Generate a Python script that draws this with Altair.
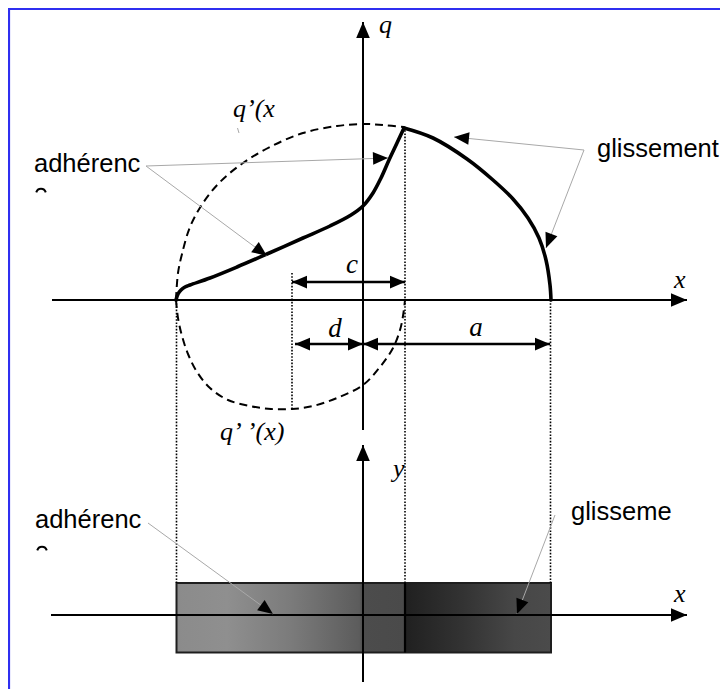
import math
import altair as alt
import pandas as pd

# ---------------- data (diagram units, origin = crossing of q-axis and upper x-axis) ----------------
# total pressure q(x): stick (adhérence) part and slip (glissement) part
adh_x = [-187, -185, -182, -178, -173, -153, -126, -96, -60, -33, -12, 0, 10, 18, 26, 34, 41]
adh_q = [0, 6, 10, 13, 15, 22, 33, 46, 62, 74, 85, 94, 107, 122, 140, 157, 172]
slip_x = [41, 70, 104, 130, 150, 165, 176, 183, 187, 188]
slip_q = [172, 162, 141, 120, 101, 82, 62, 40, 15, 0]
# q'(x) (upper dashed) and q''(x) (lower dashed)
qp_x = [-187, -185, -181, -173, -160, -143, -120, -93, -60, -26, 0, 20, 41]
qp_q = [0, 27, 46, 73, 97, 118, 137, 153, 167, 174, 176, 175, 173]
qpp_x = [-187, -185, -181, -175, -166, -153, -135, -113, -92, -71, -50, -26, 0, 17, 30, 37, 40, 42]
qpp_q = [0, -18, -36, -54, -72, -88, -100, -106, -109, -109, -106, -98, -85, -67, -48, -30, -16, 0]

# axes (start -> arrow tip)
axis_x0 = [-311, 0, -312, 0]
axis_y0 = [0, -130, -315, -382]
axis_x1 = [324, 0, 324, 0]
axis_y1 = [0, 278, -315, -145]

# dimension arrows c, d, a (double headed)
dim_x0 = [-71, -68, 0]
dim_x1 = [42, 0, 187]
dim_y = [18, -44, -44]

# dotted projection lines
dot_x = [-186.5, -71, 42, 187.5]
dot_top = [0, 27, 173, 0]
dot_bot = [-283, -109, -283, -283]

# leader lines (label -> arrow tip)
lead_x0 = [-217, -217, 221, 221, -215, 192, -125.5]
lead_y0 = [134, 134, 150, 150, -223, -215, 172]
lead_x1 = [25, -96, 91, 183, -90, 154, -124]
lead_y1 = [142, 44, 163, 52, -314, -314, 167]
lead_head = [True, True, True, True, True, True, False]

# contact strip (lower view)
strip_left = [-186.5, 42]
strip_right = [42, 188]
strip_top = -283
strip_bottom = -352.5

# labels
sans_text = ["adhérenc", "glissement", "adhérenc", "glisseme"]
sans_x = [-329, 234, -328, 208]
sans_y = [128, 143, -228, -220]
frag_x = [-322, -321]
frag_y = [110, -248]

ital_text = ["q", "q\u2019(x", "q\u2019\u2009\u2019(x)", "x", "x", "y"]
ital_x = [16, -130, -143, 311, 311, 30]
ital_y = [267, 183, -140, 12, -302, -177]
dimlab_text = ["c", "d", "a"]
dimlab_x = [-11, -28, 113]
dimlab_y = [27, -37, -36]

# frame (top and left edges)
frame_x0 = [-355, -354]
frame_y0 = [291, 292]
frame_x1 = [357, -354]
frame_y1 = [291, -389]

# ---------------- scales ----------------
XS = alt.Scale(domain=[-355, 357], nice=False, zero=False)
YS = alt.Scale(domain=[-389, 292], nice=False, zero=False)


def X(f="x"):
    return alt.X(f"{f}:Q", scale=XS, axis=None)


def Y(f="y"):
    return alt.Y(f"{f}:Q", scale=YS, axis=None)


def ang(x0, y0, x1, y1):
    return (math.degrees(math.atan2(x1 - x0, y1 - y0)) + 360.0) % 360.0


HEAD = "M0,0L-0.85,2L0.85,2Z"

# ---------------- tables ----------------
def curve_df(xs, ys, name):
    return pd.DataFrame({"x": xs, "y": ys, "seg": name, "i": range(len(xs))})


dashed_df = pd.concat([curve_df(qp_x, qp_q, "qp"), curve_df(qpp_x, qpp_q, "qpp")])
solid_df = pd.concat([curve_df(adh_x, adh_q, "adh"), curve_df(slip_x, slip_q, "slip")])

axis_df = pd.DataFrame({"x": axis_x0, "y": axis_y0, "x2": axis_x1, "y2": axis_y1})
axis_heads = pd.DataFrame({
    "x": axis_x1, "y": axis_y1,
    "ang": [ang(a, b, c, d) for a, b, c, d in zip(axis_x0, axis_y0, axis_x1, axis_y1)],
})

dim_df = pd.DataFrame({"x": dim_x0, "x2": dim_x1, "y": dim_y})
dim_heads = pd.DataFrame({
    "x": dim_x0 + dim_x1,
    "y": dim_y + dim_y,
    "ang": [ang(b, y, a, y) for a, b, y in zip(dim_x0, dim_x1, dim_y)]
    + [ang(a, y, b, y) for a, b, y in zip(dim_x0, dim_x1, dim_y)],
})

dot_df = pd.DataFrame({"x": dot_x, "y": dot_top, "y2": dot_bot})

lead_df = pd.DataFrame({"x": lead_x0, "y": lead_y0, "x2": lead_x1, "y2": lead_y1})
lead_heads = pd.DataFrame({
    "x": [v for v, h in zip(lead_x1, lead_head) if h],
    "y": [v for v, h in zip(lead_y1, lead_head) if h],
    "ang": [ang(a, b, c, d) for a, b, c, d, h in zip(lead_x0, lead_y0, lead_x1, lead_y1, lead_head) if h],
})

strip_df = pd.DataFrame({"x": strip_left, "x2": strip_right,
                         "y": [strip_top] * 2, "y2": [strip_bottom] * 2})
frame_df = pd.DataFrame({"x": frame_x0, "y": frame_y0, "x2": frame_x1, "y2": frame_y1})

sans_df = pd.DataFrame({"x": sans_x, "y": sans_y, "t": sans_text})
frag_df = pd.DataFrame({"x": frag_x, "y": frag_y})
ital_df = pd.DataFrame({"x": ital_x, "y": ital_y, "t": ital_text})
dimlab_df = pd.DataFrame({"x": dimlab_x, "y": dimlab_y, "t": dimlab_text})

# ---------------- layers ----------------
frame = alt.Chart(frame_df).mark_rule(color="#2f2ff0", strokeWidth=2.2).encode(
    x=X(), y=Y(), x2="x2:Q", y2="y2:Q")

grad_left = {"gradient": "linear", "x1": 0, "y1": 0, "x2": 1, "y2": 0,
             "stops": [{"offset": 0, "color": "#8b8b8b"},
                       {"offset": 0.22, "color": "#8f8f8f"},
                       {"offset": 0.5, "color": "#7b7b7b"},
                       {"offset": 0.8, "color": "#5c5c5c"},
                       {"offset": 0.815, "color": "#4c4c4c"},
                       {"offset": 1, "color": "#4a4a4a"}]}
grad_right = {"gradient": "linear", "x1": 0, "y1": 0, "x2": 1, "y2": 0,
              "stops": [{"offset": 0, "color": "#202020"},
                        {"offset": 0.4, "color": "#333333"},
                        {"offset": 0.75, "color": "#474747"},
                        {"offset": 1, "color": "#4b4b4b"}]}

strip_l = alt.Chart(strip_df.iloc[[0]]).mark_rect(fill=grad_left, strokeWidth=0).encode(
    x=X(), x2="x2:Q", y=Y(), y2="y2:Q")
strip_r = alt.Chart(strip_df.iloc[[1]]).mark_rect(fill=grad_right, strokeWidth=0).encode(
    x=X(), x2="x2:Q", y=Y(), y2="y2:Q")
strip_outline = alt.Chart(pd.DataFrame({"x": [strip_left[0]], "x2": [strip_right[1]],
                                        "y": [strip_top], "y2": [strip_bottom]})).mark_rect(
    fillOpacity=0, stroke="#1e1e1e", strokeWidth=2).encode(x=X(), x2="x2:Q", y=Y(), y2="y2:Q")
strip_div = alt.Chart(pd.DataFrame({"x": [strip_left[1]], "y": [strip_top], "y2": [strip_bottom]})).mark_rule(
    color="black", strokeWidth=2.2).encode(x=X(), y=Y(), y2="y2:Q")

dots = alt.Chart(dot_df).mark_rule(color="black", strokeWidth=1.6, strokeDash=[1.6, 1.6]).encode(
    x=X(), y=Y(), y2="y2:Q")

axes = alt.Chart(axis_df).mark_rule(color="black", strokeWidth=2).encode(
    x=X(), y=Y(), x2="x2:Q", y2="y2:Q")

dashed = alt.Chart(dashed_df).mark_line(interpolate="catmull-rom", color="black", strokeWidth=2,
                                        strokeDash=[8, 5]).encode(
    x=X(), y=Y(), detail="seg:N", order="i:Q")

solid = alt.Chart(solid_df).mark_line(interpolate="catmull-rom", color="black", strokeWidth=3.6,
                                      strokeCap="round", strokeJoin="round").encode(
    x=X(), y=Y(), detail="seg:N", order="i:Q")

dims = alt.Chart(dim_df).mark_rule(color="black", strokeWidth=2.6).encode(
    x=X(), x2="x2:Q", y=Y())

leaders = alt.Chart(lead_df).mark_rule(color="#a8a8a8", strokeWidth=1).encode(
    x=X(), y=Y(), x2="x2:Q", y2="y2:Q")

head_style = dict(shape=HEAD, filled=True, color="black", opacity=1, strokeWidth=0)
h_axes = alt.Chart(axis_heads).mark_point(size=256, **head_style).encode(
    x=X(), y=Y(), angle=alt.Angle("ang:Q", scale=None))
h_dims = alt.Chart(dim_heads).mark_point(size=225, **head_style).encode(
    x=X(), y=Y(), angle=alt.Angle("ang:Q", scale=None))
h_lead = alt.Chart(lead_heads).mark_point(size=225, **head_style).encode(
    x=X(), y=Y(), angle=alt.Angle("ang:Q", scale=None))

sans = alt.Chart(sans_df).mark_text(align="left", baseline="alphabetic", font="Liberation Sans",
                                    fontSize=25.5, color="black").encode(x=X(), y=Y(), text="t:N")
frags = alt.Chart(frag_df).mark_point(shape="M-1,0.5C-0.7,-0.55 0.7,-0.55 1,0.5", filled=False, size=90,
                                      strokeWidth=2, color="black", opacity=1).encode(x=X(), y=Y())
ital = alt.Chart(ital_df).mark_text(align="left", baseline="alphabetic", font="Liberation Serif",
                                    fontStyle="italic", fontSize=26, color="black").encode(
    x=X(), y=Y(), text="t:N")
dimlab = alt.Chart(dimlab_df).mark_text(align="center", baseline="alphabetic", font="Liberation Serif",
                                        fontStyle="italic", fontSize=27, color="black").encode(
    x=X(), y=Y(), text="t:N")

chart = alt.layer(
    frame, strip_l, strip_r, strip_outline, strip_div, dots, dashed, axes, solid, dims,
    leaders, h_axes, h_dims, h_lead, sans, frags, ital, dimlab,
).properties(
    width=712, height=681, padding=0, autosize=alt.AutoSizeParams(type="none"),
).configure_view(stroke="transparent")

chart.save("out.html", embed_options={"renderer": "svg", "actions": False})
